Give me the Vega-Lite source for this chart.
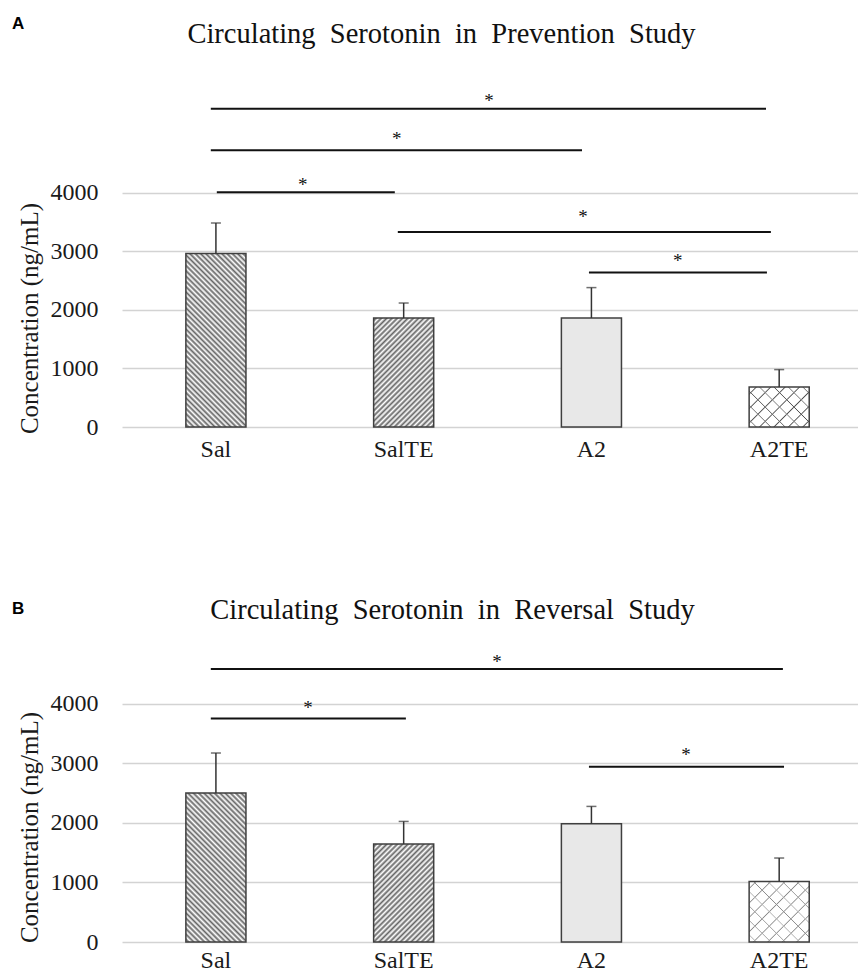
{
  "$schema": "https://vega.github.io/schema/vega-lite/v6.json",
  "background": "white",
  "padding": {"left": 12, "top": 14, "right": 0, "bottom": 0},
  "spacing": 134,
  "config": {
    "font": "Liberation Serif",
    "view": {"stroke": null},
    "axis": {"labelFont": "Liberation Serif", "labelFontSize": 24, "labelColor": "#1a1a1a", "titleFont": "Liberation Serif", "titleFontSize": 25, "titleFontWeight": "normal", "titleColor": "#1a1a1a", "domain": false, "ticks": false, "tickSize": 0, "gridColor": "#d3d3d3", "gridWidth": 1.5},
    "axisX": {"grid": false, "labelPadding": 10},
    "axisY": {"labelPadding": 24, "titlePadding": 8, "format": "d"},
    "text": {"font": "Liberation Serif"}
  },
  "datasets": {
    "barsA": [
      {"group": "Sal", "mean": 2958, "upper": 3480},
      {"group": "SalTE", "mean": 1859, "upper": 2115},
      {"group": "A2", "mean": 1859, "upper": 2378},
      {"group": "A2TE", "mean": 682, "upper": 979}
    ],
    "sigA": [
      {"start": 0.473, "end": 3.43, "level": 5431, "star_x": 1.955, "star_y": 5624, "label": "*"},
      {"start": 0.473, "end": 2.45, "level": 4720, "star_x": 1.464, "star_y": 4976, "label": "*"},
      {"start": 0.505, "end": 1.453, "level": 4004, "star_x": 0.963, "star_y": 4191, "label": "*"},
      {"start": 1.469, "end": 3.456, "level": 3326, "star_x": 2.455, "star_y": 3645, "label": "*"},
      {"start": 2.487, "end": 3.435, "level": 2634, "star_x": 2.96, "star_y": 2895, "label": "*"}
    ],
    "barsB": [
      {"group": "Sal", "mean": 2500, "upper": 3171},
      {"group": "SalTE", "mean": 1644, "upper": 2023},
      {"group": "A2", "mean": 1985, "upper": 2275},
      {"group": "A2TE", "mean": 1017, "upper": 1409}
    ],
    "sigB": [
      {"start": 0.473, "end": 3.52, "level": 4581, "star_x": 1.997, "star_y": 4770, "label": "*"},
      {"start": 0.473, "end": 1.512, "level": 3752, "star_x": 0.99, "star_y": 3998, "label": "*"},
      {"start": 2.487, "end": 3.526, "level": 2941, "star_x": 3.004, "star_y": 3198, "label": "*"}
    ]
  },
  "vconcat": [
    {
      "title": {"text": "A", "anchor": "start", "frame": "group", "font": "Liberation Sans", "fontSize": 17, "fontWeight": "bold", "color": "#000", "offset": 0, "dy": 13, "dx": -110},
      "vconcat": [
        {
          "title": {"text": "Circulating\u00a0\u00a0Serotonin\u00a0\u00a0in\u00a0\u00a0Prevention\u00a0\u00a0Study", "frame": "bounds", "anchor": "middle", "font": "Liberation Serif", "fontSize": 28.5, "fontWeight": "normal", "color": "#111", "offset": 39, "dx": 4},
          "width": 736,
          "height": 340,
          "resolve": {"scale": {"x": "independent"}, "axis": {"x": "independent"}},
          "layer": [
            {
              "data": {"name": "barsA"},
              "encoding": {
                "x": {"field": "group", "type": "nominal", "sort": ["Sal", "SalTE", "A2", "A2TE"], "scale": {"type": "band", "domain": ["Sal", "SalTE", "A2", "A2TE"], "paddingInner": 0.68, "paddingOuter": 0.3, "align": 0.567}, "axis": {"title": null, "labelAngle": 0, "labelFont": "Liberation Serif", "labelFontSize": 24}},
                "y": {"field": "mean", "type": "quantitative", "title": "Concentration (ng/mL)", "scale": {"domain": [0, 5800], "nice": false}, "axis": {"values": [0, 1000, 2000, 3000, 4000], "format": "d", "grid": true, "titleY": 231, "labelFont": "Liberation Serif", "titleFont": "Liberation Serif"}}
              },
              "layer": [
                {"transform": [{"filter": "datum.group === 'Sal'"}], "mark": {"type": "bar", "stroke": "#3f3f3f", "strokeWidth": 1.5, "fill": {"gradient": "linear", "x1": 0, "y1": 1, "x2": 0.4245, "y2": -0.2277, "stops": [{"offset":0,"color":"#fff"},{"offset":0.011,"color":"#666"},{"offset":0.022,"color":"#fff"},{"offset":0.033,"color":"#666"},{"offset":0.044,"color":"#fff"},{"offset":0.056,"color":"#666"},{"offset":0.067,"color":"#fff"},{"offset":0.078,"color":"#666"},{"offset":0.089,"color":"#fff"},{"offset":0.1,"color":"#666"},{"offset":0.111,"color":"#fff"},{"offset":0.122,"color":"#666"},{"offset":0.133,"color":"#fff"},{"offset":0.144,"color":"#666"},{"offset":0.156,"color":"#fff"},{"offset":0.167,"color":"#666"},{"offset":0.178,"color":"#fff"},{"offset":0.189,"color":"#666"},{"offset":0.2,"color":"#fff"},{"offset":0.211,"color":"#666"},{"offset":0.222,"color":"#fff"},{"offset":0.233,"color":"#666"},{"offset":0.244,"color":"#fff"},{"offset":0.256,"color":"#666"},{"offset":0.267,"color":"#fff"},{"offset":0.278,"color":"#666"},{"offset":0.289,"color":"#fff"},{"offset":0.3,"color":"#666"},{"offset":0.311,"color":"#fff"},{"offset":0.322,"color":"#666"},{"offset":0.333,"color":"#fff"},{"offset":0.344,"color":"#666"},{"offset":0.356,"color":"#fff"},{"offset":0.367,"color":"#666"},{"offset":0.378,"color":"#fff"},{"offset":0.389,"color":"#666"},{"offset":0.4,"color":"#fff"},{"offset":0.411,"color":"#666"},{"offset":0.422,"color":"#fff"},{"offset":0.433,"color":"#666"},{"offset":0.444,"color":"#fff"},{"offset":0.456,"color":"#666"},{"offset":0.467,"color":"#fff"},{"offset":0.478,"color":"#666"},{"offset":0.489,"color":"#fff"},{"offset":0.5,"color":"#666"},{"offset":0.511,"color":"#fff"},{"offset":0.522,"color":"#666"},{"offset":0.533,"color":"#fff"},{"offset":0.544,"color":"#666"},{"offset":0.556,"color":"#fff"},{"offset":0.567,"color":"#666"},{"offset":0.578,"color":"#fff"},{"offset":0.589,"color":"#666"},{"offset":0.6,"color":"#fff"},{"offset":0.611,"color":"#666"},{"offset":0.622,"color":"#fff"},{"offset":0.633,"color":"#666"},{"offset":0.644,"color":"#fff"},{"offset":0.656,"color":"#666"},{"offset":0.667,"color":"#fff"},{"offset":0.678,"color":"#666"},{"offset":0.689,"color":"#fff"},{"offset":0.7,"color":"#666"},{"offset":0.711,"color":"#fff"},{"offset":0.722,"color":"#666"},{"offset":0.733,"color":"#fff"},{"offset":0.744,"color":"#666"},{"offset":0.756,"color":"#fff"},{"offset":0.767,"color":"#666"},{"offset":0.778,"color":"#fff"},{"offset":0.789,"color":"#666"},{"offset":0.8,"color":"#fff"},{"offset":0.811,"color":"#666"},{"offset":0.822,"color":"#fff"},{"offset":0.833,"color":"#666"},{"offset":0.844,"color":"#fff"},{"offset":0.856,"color":"#666"},{"offset":0.867,"color":"#fff"},{"offset":0.878,"color":"#666"},{"offset":0.889,"color":"#fff"},{"offset":0.9,"color":"#666"},{"offset":0.911,"color":"#fff"},{"offset":0.922,"color":"#666"},{"offset":0.933,"color":"#fff"},{"offset":0.944,"color":"#666"},{"offset":0.956,"color":"#fff"},{"offset":0.967,"color":"#666"},{"offset":0.978,"color":"#fff"},{"offset":0.989,"color":"#666"},{"offset":1,"color":"#fff"}]}}},
                {"transform": [{"filter": "datum.group === 'SalTE'"}], "mark": {"type": "bar", "stroke": "#3f3f3f", "strokeWidth": 1.5, "fill": {"gradient": "linear", "x1": 0, "y1": 0, "x2": 0.9238, "y2": 1.6789, "stops": [{"offset":0,"color":"#fff"},{"offset":0.011,"color":"#666"},{"offset":0.022,"color":"#fff"},{"offset":0.033,"color":"#666"},{"offset":0.044,"color":"#fff"},{"offset":0.056,"color":"#666"},{"offset":0.067,"color":"#fff"},{"offset":0.078,"color":"#666"},{"offset":0.089,"color":"#fff"},{"offset":0.1,"color":"#666"},{"offset":0.111,"color":"#fff"},{"offset":0.122,"color":"#666"},{"offset":0.133,"color":"#fff"},{"offset":0.144,"color":"#666"},{"offset":0.156,"color":"#fff"},{"offset":0.167,"color":"#666"},{"offset":0.178,"color":"#fff"},{"offset":0.189,"color":"#666"},{"offset":0.2,"color":"#fff"},{"offset":0.211,"color":"#666"},{"offset":0.222,"color":"#fff"},{"offset":0.233,"color":"#666"},{"offset":0.244,"color":"#fff"},{"offset":0.256,"color":"#666"},{"offset":0.267,"color":"#fff"},{"offset":0.278,"color":"#666"},{"offset":0.289,"color":"#fff"},{"offset":0.3,"color":"#666"},{"offset":0.311,"color":"#fff"},{"offset":0.322,"color":"#666"},{"offset":0.333,"color":"#fff"},{"offset":0.344,"color":"#666"},{"offset":0.356,"color":"#fff"},{"offset":0.367,"color":"#666"},{"offset":0.378,"color":"#fff"},{"offset":0.389,"color":"#666"},{"offset":0.4,"color":"#fff"},{"offset":0.411,"color":"#666"},{"offset":0.422,"color":"#fff"},{"offset":0.433,"color":"#666"},{"offset":0.444,"color":"#fff"},{"offset":0.456,"color":"#666"},{"offset":0.467,"color":"#fff"},{"offset":0.478,"color":"#666"},{"offset":0.489,"color":"#fff"},{"offset":0.5,"color":"#666"},{"offset":0.511,"color":"#fff"},{"offset":0.522,"color":"#666"},{"offset":0.533,"color":"#fff"},{"offset":0.544,"color":"#666"},{"offset":0.556,"color":"#fff"},{"offset":0.567,"color":"#666"},{"offset":0.578,"color":"#fff"},{"offset":0.589,"color":"#666"},{"offset":0.6,"color":"#fff"},{"offset":0.611,"color":"#666"},{"offset":0.622,"color":"#fff"},{"offset":0.633,"color":"#666"},{"offset":0.644,"color":"#fff"},{"offset":0.656,"color":"#666"},{"offset":0.667,"color":"#fff"},{"offset":0.678,"color":"#666"},{"offset":0.689,"color":"#fff"},{"offset":0.7,"color":"#666"},{"offset":0.711,"color":"#fff"},{"offset":0.722,"color":"#666"},{"offset":0.733,"color":"#fff"},{"offset":0.744,"color":"#666"},{"offset":0.756,"color":"#fff"},{"offset":0.767,"color":"#666"},{"offset":0.778,"color":"#fff"},{"offset":0.789,"color":"#666"},{"offset":0.8,"color":"#fff"},{"offset":0.811,"color":"#666"},{"offset":0.822,"color":"#fff"},{"offset":0.833,"color":"#666"},{"offset":0.844,"color":"#fff"},{"offset":0.856,"color":"#666"},{"offset":0.867,"color":"#fff"},{"offset":0.878,"color":"#666"},{"offset":0.889,"color":"#fff"},{"offset":0.9,"color":"#666"},{"offset":0.911,"color":"#fff"},{"offset":0.922,"color":"#666"},{"offset":0.933,"color":"#fff"},{"offset":0.944,"color":"#666"},{"offset":0.956,"color":"#fff"},{"offset":0.967,"color":"#666"},{"offset":0.978,"color":"#fff"},{"offset":0.989,"color":"#666"},{"offset":1,"color":"#fff"}]}}},
                {"transform": [{"filter": "datum.group === 'A2'"}], "mark": {"type": "bar", "stroke": "#3f3f3f", "strokeWidth": 1.5, "fill": "#e8e8e8"}},
                {"transform": [{"filter": "datum.group === 'A2TE'"}], "mark": {"type": "bar", "strokeWidth": 0, "fill": {"gradient": "linear", "x1": 0, "y1": 0, "x2": 1.1624, "y2": 0.7757, "stops": [{"offset":0,"color":"#fff"},{"offset":0.0585,"color":"#fff"},{"offset":0.0714,"color":"#505050"},{"offset":0.0843,"color":"#fff"},{"offset":0.2014,"color":"#fff"},{"offset":0.2143,"color":"#505050"},{"offset":0.2272,"color":"#fff"},{"offset":0.3442,"color":"#fff"},{"offset":0.3571,"color":"#505050"},{"offset":0.37,"color":"#fff"},{"offset":0.4871,"color":"#fff"},{"offset":0.5,"color":"#505050"},{"offset":0.5129,"color":"#fff"},{"offset":0.63,"color":"#fff"},{"offset":0.6429,"color":"#505050"},{"offset":0.6558,"color":"#fff"},{"offset":0.7728,"color":"#fff"},{"offset":0.7857,"color":"#505050"},{"offset":0.7986,"color":"#fff"},{"offset":0.9157,"color":"#fff"},{"offset":0.9286,"color":"#505050"},{"offset":0.9415,"color":"#fff"},{"offset":1,"color":"#fff"}]}}},
                {"transform": [{"filter": "datum.group === 'A2TE'"}], "mark": {"type": "bar", "stroke": "#3f3f3f", "strokeWidth": 1.5, "fill": {"gradient": "linear", "x1": 0, "y1": 1, "x2": 1.1624, "y2": 0.2243, "stops": [{"offset":0,"color":"rgba(255,255,255,0)"},{"offset":0.0585,"color":"rgba(255,255,255,0)"},{"offset":0.0714,"color":"#505050"},{"offset":0.0843,"color":"rgba(255,255,255,0)"},{"offset":0.2014,"color":"rgba(255,255,255,0)"},{"offset":0.2143,"color":"#505050"},{"offset":0.2272,"color":"rgba(255,255,255,0)"},{"offset":0.3442,"color":"rgba(255,255,255,0)"},{"offset":0.3571,"color":"#505050"},{"offset":0.37,"color":"rgba(255,255,255,0)"},{"offset":0.4871,"color":"rgba(255,255,255,0)"},{"offset":0.5,"color":"#505050"},{"offset":0.5129,"color":"rgba(255,255,255,0)"},{"offset":0.63,"color":"rgba(255,255,255,0)"},{"offset":0.6429,"color":"#505050"},{"offset":0.6558,"color":"rgba(255,255,255,0)"},{"offset":0.7728,"color":"rgba(255,255,255,0)"},{"offset":0.7857,"color":"#505050"},{"offset":0.7986,"color":"rgba(255,255,255,0)"},{"offset":0.9157,"color":"rgba(255,255,255,0)"},{"offset":0.9286,"color":"#505050"},{"offset":0.9415,"color":"rgba(255,255,255,0)"},{"offset":1,"color":"rgba(255,255,255,0)"}]}}},
                {"mark": {"type": "rule", "color": "#333", "strokeWidth": 1.5}, "encoding": {"y2": {"field": "upper"}}},
                {"mark": {"type": "tick", "color": "#333", "thickness": 1.5, "size": 10}, "encoding": {"y": {"field": "upper", "type": "quantitative", "title": "Concentration (ng/mL)"}}}
              ]
            },
            {
              "data": {"name": "sigA"},
              "layer": [
                {"mark": {"type": "rule", "color": "#111", "strokeWidth": 2}, "encoding": {"x": {"field": "start", "type": "quantitative", "scale": {"domain": [0, 3.92], "nice": false, "zero": false}, "axis": null}, "x2": {"field": "end"}, "y": {"field": "level", "type": "quantitative", "title": "Concentration (ng/mL)"}}},
                {"mark": {"type": "text", "font": "Liberation Serif", "fontSize": 19, "baseline": "middle", "dy": 4, "color": "#111"}, "encoding": {"x": {"field": "star_x", "type": "quantitative", "axis": null}, "y": {"field": "star_y", "type": "quantitative", "title": "Concentration (ng/mL)"}, "text": {"field": "label"}}}
              ]
            }
          ]
        }
      ]
    },
    {
      "title": {"text": "B", "anchor": "start", "frame": "group", "font": "Liberation Sans", "fontSize": 17, "fontWeight": "bold", "color": "#000", "offset": 0, "dy": 22, "dx": -110},
      "vconcat": [
        {
          "title": {"text": "Circulating\u00a0\u00a0Serotonin\u00a0\u00a0in\u00a0\u00a0Reversal\u00a0\u00a0Study", "frame": "bounds", "anchor": "middle", "font": "Liberation Serif", "fontSize": 28.5, "fontWeight": "normal", "color": "#111", "offset": 20, "dx": 15},
          "width": 736,
          "height": 298,
          "resolve": {"scale": {"x": "independent"}, "axis": {"x": "independent"}},
          "layer": [
            {
              "data": {"name": "barsB"},
              "encoding": {
                "x": {"field": "group", "type": "nominal", "sort": ["Sal", "SalTE", "A2", "A2TE"], "scale": {"type": "band", "domain": ["Sal", "SalTE", "A2", "A2TE"], "paddingInner": 0.68, "paddingOuter": 0.3, "align": 0.567}, "axis": {"title": null, "labelAngle": 0, "labelFont": "Liberation Serif", "labelFontSize": 24, "labelPadding": 6}},
                "y": {"field": "mean", "type": "quantitative", "title": "Concentration (ng/mL)", "scale": {"domain": [0, 5000], "nice": false}, "axis": {"values": [0, 1000, 2000, 3000, 4000], "format": "d", "grid": true, "titleY": 183, "labelFont": "Liberation Serif", "titleFont": "Liberation Serif"}}
              },
              "layer": [
                {"transform": [{"filter": "datum.group === 'Sal'"}], "mark": {"type": "bar", "stroke": "#3f3f3f", "strokeWidth": 1.5, "fill": {"gradient": "linear", "x1": 0, "y1": 1, "x2": 0.5546, "y2": -0.3774, "stops": [{"offset":0,"color":"#fff"},{"offset":0.011,"color":"#666"},{"offset":0.022,"color":"#fff"},{"offset":0.033,"color":"#666"},{"offset":0.044,"color":"#fff"},{"offset":0.056,"color":"#666"},{"offset":0.067,"color":"#fff"},{"offset":0.078,"color":"#666"},{"offset":0.089,"color":"#fff"},{"offset":0.1,"color":"#666"},{"offset":0.111,"color":"#fff"},{"offset":0.122,"color":"#666"},{"offset":0.133,"color":"#fff"},{"offset":0.144,"color":"#666"},{"offset":0.156,"color":"#fff"},{"offset":0.167,"color":"#666"},{"offset":0.178,"color":"#fff"},{"offset":0.189,"color":"#666"},{"offset":0.2,"color":"#fff"},{"offset":0.211,"color":"#666"},{"offset":0.222,"color":"#fff"},{"offset":0.233,"color":"#666"},{"offset":0.244,"color":"#fff"},{"offset":0.256,"color":"#666"},{"offset":0.267,"color":"#fff"},{"offset":0.278,"color":"#666"},{"offset":0.289,"color":"#fff"},{"offset":0.3,"color":"#666"},{"offset":0.311,"color":"#fff"},{"offset":0.322,"color":"#666"},{"offset":0.333,"color":"#fff"},{"offset":0.344,"color":"#666"},{"offset":0.356,"color":"#fff"},{"offset":0.367,"color":"#666"},{"offset":0.378,"color":"#fff"},{"offset":0.389,"color":"#666"},{"offset":0.4,"color":"#fff"},{"offset":0.411,"color":"#666"},{"offset":0.422,"color":"#fff"},{"offset":0.433,"color":"#666"},{"offset":0.444,"color":"#fff"},{"offset":0.456,"color":"#666"},{"offset":0.467,"color":"#fff"},{"offset":0.478,"color":"#666"},{"offset":0.489,"color":"#fff"},{"offset":0.5,"color":"#666"},{"offset":0.511,"color":"#fff"},{"offset":0.522,"color":"#666"},{"offset":0.533,"color":"#fff"},{"offset":0.544,"color":"#666"},{"offset":0.556,"color":"#fff"},{"offset":0.567,"color":"#666"},{"offset":0.578,"color":"#fff"},{"offset":0.589,"color":"#666"},{"offset":0.6,"color":"#fff"},{"offset":0.611,"color":"#666"},{"offset":0.622,"color":"#fff"},{"offset":0.633,"color":"#666"},{"offset":0.644,"color":"#fff"},{"offset":0.656,"color":"#666"},{"offset":0.667,"color":"#fff"},{"offset":0.678,"color":"#666"},{"offset":0.689,"color":"#fff"},{"offset":0.7,"color":"#666"},{"offset":0.711,"color":"#fff"},{"offset":0.722,"color":"#666"},{"offset":0.733,"color":"#fff"},{"offset":0.744,"color":"#666"},{"offset":0.756,"color":"#fff"},{"offset":0.767,"color":"#666"},{"offset":0.778,"color":"#fff"},{"offset":0.789,"color":"#666"},{"offset":0.8,"color":"#fff"},{"offset":0.811,"color":"#666"},{"offset":0.822,"color":"#fff"},{"offset":0.833,"color":"#666"},{"offset":0.844,"color":"#fff"},{"offset":0.856,"color":"#666"},{"offset":0.867,"color":"#fff"},{"offset":0.878,"color":"#666"},{"offset":0.889,"color":"#fff"},{"offset":0.9,"color":"#666"},{"offset":0.911,"color":"#fff"},{"offset":0.922,"color":"#666"},{"offset":0.933,"color":"#fff"},{"offset":0.944,"color":"#666"},{"offset":0.956,"color":"#fff"},{"offset":0.967,"color":"#666"},{"offset":0.978,"color":"#fff"},{"offset":0.989,"color":"#666"},{"offset":1,"color":"#fff"}]}}},
                {"transform": [{"filter": "datum.group === 'SalTE'"}], "mark": {"type": "bar", "stroke": "#3f3f3f", "strokeWidth": 1.5, "fill": {"gradient": "linear", "x1": 0, "y1": 0, "x2": 1.085, "y2": 1.7707, "stops": [{"offset":0,"color":"#fff"},{"offset":0.011,"color":"#666"},{"offset":0.022,"color":"#fff"},{"offset":0.033,"color":"#666"},{"offset":0.044,"color":"#fff"},{"offset":0.056,"color":"#666"},{"offset":0.067,"color":"#fff"},{"offset":0.078,"color":"#666"},{"offset":0.089,"color":"#fff"},{"offset":0.1,"color":"#666"},{"offset":0.111,"color":"#fff"},{"offset":0.122,"color":"#666"},{"offset":0.133,"color":"#fff"},{"offset":0.144,"color":"#666"},{"offset":0.156,"color":"#fff"},{"offset":0.167,"color":"#666"},{"offset":0.178,"color":"#fff"},{"offset":0.189,"color":"#666"},{"offset":0.2,"color":"#fff"},{"offset":0.211,"color":"#666"},{"offset":0.222,"color":"#fff"},{"offset":0.233,"color":"#666"},{"offset":0.244,"color":"#fff"},{"offset":0.256,"color":"#666"},{"offset":0.267,"color":"#fff"},{"offset":0.278,"color":"#666"},{"offset":0.289,"color":"#fff"},{"offset":0.3,"color":"#666"},{"offset":0.311,"color":"#fff"},{"offset":0.322,"color":"#666"},{"offset":0.333,"color":"#fff"},{"offset":0.344,"color":"#666"},{"offset":0.356,"color":"#fff"},{"offset":0.367,"color":"#666"},{"offset":0.378,"color":"#fff"},{"offset":0.389,"color":"#666"},{"offset":0.4,"color":"#fff"},{"offset":0.411,"color":"#666"},{"offset":0.422,"color":"#fff"},{"offset":0.433,"color":"#666"},{"offset":0.444,"color":"#fff"},{"offset":0.456,"color":"#666"},{"offset":0.467,"color":"#fff"},{"offset":0.478,"color":"#666"},{"offset":0.489,"color":"#fff"},{"offset":0.5,"color":"#666"},{"offset":0.511,"color":"#fff"},{"offset":0.522,"color":"#666"},{"offset":0.533,"color":"#fff"},{"offset":0.544,"color":"#666"},{"offset":0.556,"color":"#fff"},{"offset":0.567,"color":"#666"},{"offset":0.578,"color":"#fff"},{"offset":0.589,"color":"#666"},{"offset":0.6,"color":"#fff"},{"offset":0.611,"color":"#666"},{"offset":0.622,"color":"#fff"},{"offset":0.633,"color":"#666"},{"offset":0.644,"color":"#fff"},{"offset":0.656,"color":"#666"},{"offset":0.667,"color":"#fff"},{"offset":0.678,"color":"#666"},{"offset":0.689,"color":"#fff"},{"offset":0.7,"color":"#666"},{"offset":0.711,"color":"#fff"},{"offset":0.722,"color":"#666"},{"offset":0.733,"color":"#fff"},{"offset":0.744,"color":"#666"},{"offset":0.756,"color":"#fff"},{"offset":0.767,"color":"#666"},{"offset":0.778,"color":"#fff"},{"offset":0.789,"color":"#666"},{"offset":0.8,"color":"#fff"},{"offset":0.811,"color":"#666"},{"offset":0.822,"color":"#fff"},{"offset":0.833,"color":"#666"},{"offset":0.844,"color":"#fff"},{"offset":0.856,"color":"#666"},{"offset":0.867,"color":"#fff"},{"offset":0.878,"color":"#666"},{"offset":0.889,"color":"#fff"},{"offset":0.9,"color":"#666"},{"offset":0.911,"color":"#fff"},{"offset":0.922,"color":"#666"},{"offset":0.933,"color":"#fff"},{"offset":0.944,"color":"#666"},{"offset":0.956,"color":"#fff"},{"offset":0.967,"color":"#666"},{"offset":0.978,"color":"#fff"},{"offset":0.989,"color":"#666"},{"offset":1,"color":"#fff"}]}}},
                {"transform": [{"filter": "datum.group === 'A2'"}], "mark": {"type": "bar", "stroke": "#3f3f3f", "strokeWidth": 1.5, "fill": "#e8e8e8"}},
                {"transform": [{"filter": "datum.group === 'A2TE'"}], "mark": {"type": "bar", "strokeWidth": 0, "fill": {"gradient": "linear", "x1": 0, "y1": 0, "x2": 1.0701, "y2": 1.08, "stops": [{"offset":0,"color":"#fff"},{"offset":0.0463,"color":"#fff"},{"offset":0.0556,"color":"#8c8c8c"},{"offset":0.0649,"color":"#fff"},{"offset":0.1574,"color":"#fff"},{"offset":0.1667,"color":"#8c8c8c"},{"offset":0.176,"color":"#fff"},{"offset":0.2685,"color":"#fff"},{"offset":0.2778,"color":"#8c8c8c"},{"offset":0.2871,"color":"#fff"},{"offset":0.3796,"color":"#fff"},{"offset":0.3889,"color":"#8c8c8c"},{"offset":0.3982,"color":"#fff"},{"offset":0.4907,"color":"#fff"},{"offset":0.5,"color":"#8c8c8c"},{"offset":0.5093,"color":"#fff"},{"offset":0.6018,"color":"#fff"},{"offset":0.6111,"color":"#8c8c8c"},{"offset":0.6204,"color":"#fff"},{"offset":0.7129,"color":"#fff"},{"offset":0.7222,"color":"#8c8c8c"},{"offset":0.7315,"color":"#fff"},{"offset":0.824,"color":"#fff"},{"offset":0.8333,"color":"#8c8c8c"},{"offset":0.8426,"color":"#fff"},{"offset":0.9351,"color":"#fff"},{"offset":0.9444,"color":"#8c8c8c"},{"offset":0.9537,"color":"#fff"},{"offset":1,"color":"#fff"}]}}},
                {"transform": [{"filter": "datum.group === 'A2TE'"}], "mark": {"type": "bar", "stroke": "#3f3f3f", "strokeWidth": 1.5, "fill": {"gradient": "linear", "x1": 0, "y1": 1, "x2": 1.0701, "y2": -0.08, "stops": [{"offset":0,"color":"rgba(255,255,255,0)"},{"offset":0.0463,"color":"rgba(255,255,255,0)"},{"offset":0.0556,"color":"#8c8c8c"},{"offset":0.0649,"color":"rgba(255,255,255,0)"},{"offset":0.1574,"color":"rgba(255,255,255,0)"},{"offset":0.1667,"color":"#8c8c8c"},{"offset":0.176,"color":"rgba(255,255,255,0)"},{"offset":0.2685,"color":"rgba(255,255,255,0)"},{"offset":0.2778,"color":"#8c8c8c"},{"offset":0.2871,"color":"rgba(255,255,255,0)"},{"offset":0.3796,"color":"rgba(255,255,255,0)"},{"offset":0.3889,"color":"#8c8c8c"},{"offset":0.3982,"color":"rgba(255,255,255,0)"},{"offset":0.4907,"color":"rgba(255,255,255,0)"},{"offset":0.5,"color":"#8c8c8c"},{"offset":0.5093,"color":"rgba(255,255,255,0)"},{"offset":0.6018,"color":"rgba(255,255,255,0)"},{"offset":0.6111,"color":"#8c8c8c"},{"offset":0.6204,"color":"rgba(255,255,255,0)"},{"offset":0.7129,"color":"rgba(255,255,255,0)"},{"offset":0.7222,"color":"#8c8c8c"},{"offset":0.7315,"color":"rgba(255,255,255,0)"},{"offset":0.824,"color":"rgba(255,255,255,0)"},{"offset":0.8333,"color":"#8c8c8c"},{"offset":0.8426,"color":"rgba(255,255,255,0)"},{"offset":0.9351,"color":"rgba(255,255,255,0)"},{"offset":0.9444,"color":"#8c8c8c"},{"offset":0.9537,"color":"rgba(255,255,255,0)"},{"offset":1,"color":"rgba(255,255,255,0)"}]}}},
                {"mark": {"type": "rule", "color": "#333", "strokeWidth": 1.5}, "encoding": {"y2": {"field": "upper"}}},
                {"mark": {"type": "tick", "color": "#333", "thickness": 1.5, "size": 10}, "encoding": {"y": {"field": "upper", "type": "quantitative", "title": "Concentration (ng/mL)"}}}
              ]
            },
            {
              "data": {"name": "sigB"},
              "layer": [
                {"mark": {"type": "rule", "color": "#111", "strokeWidth": 2}, "encoding": {"x": {"field": "start", "type": "quantitative", "scale": {"domain": [0, 3.92], "nice": false, "zero": false}, "axis": null}, "x2": {"field": "end"}, "y": {"field": "level", "type": "quantitative", "title": "Concentration (ng/mL)"}}},
                {"mark": {"type": "text", "font": "Liberation Serif", "fontSize": 19, "baseline": "middle", "dy": 4, "color": "#111"}, "encoding": {"x": {"field": "star_x", "type": "quantitative", "axis": null}, "y": {"field": "star_y", "type": "quantitative", "title": "Concentration (ng/mL)"}, "text": {"field": "label"}}}
              ]
            }
          ]
        }
      ]
    }
  ]
}
